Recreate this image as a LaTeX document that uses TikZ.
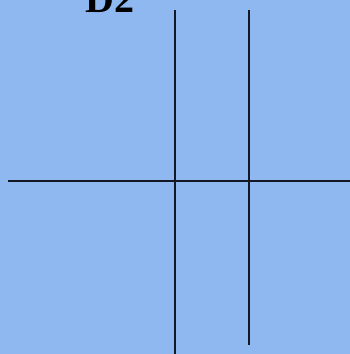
\documentclass[tikz,border=0pt]{standalone}
\usepackage{fontspec}
\setmainfont{Liberation Serif}
\usepackage{xcolor}
\definecolor{skyback}{RGB}{143,184,240}
\definecolor{inkline}{RGB}{20,24,36}

\begin{document}
\begin{tikzpicture}[
  x=1pt,
  y=-1pt,
  rule/.style={inkline,line width=2pt}
]
  % Page frame and background.
  \useasboundingbox (0,0) rectangle (350,354);
  \clip (0,0) rectangle (350,354);
  \fill[skyback] (0,0) rectangle (350,354);

  % Title, cut by the top edge as in the original.
  \node[anchor=base west,inner sep=0pt,font=\bfseries\fontsize{40}{40}\selectfont]
    (title) at (85,12) {D2};

  % Lines.
  \coordinate (vAtop) at (175,10);
  \coordinate (vAbot) at (175,354);
  \coordinate (vBtop) at (248.5,10);
  \coordinate (vBbot) at (248.5,345);
  \coordinate (hleft) at (8,181);
  \coordinate (hright) at (350,181);
  \draw[rule] (vAtop) -- (vAbot);
  \draw[rule] (vBtop) -- (vBbot);
  \draw[rule] (hleft) -- (hright);
\end{tikzpicture}
\end{document}
